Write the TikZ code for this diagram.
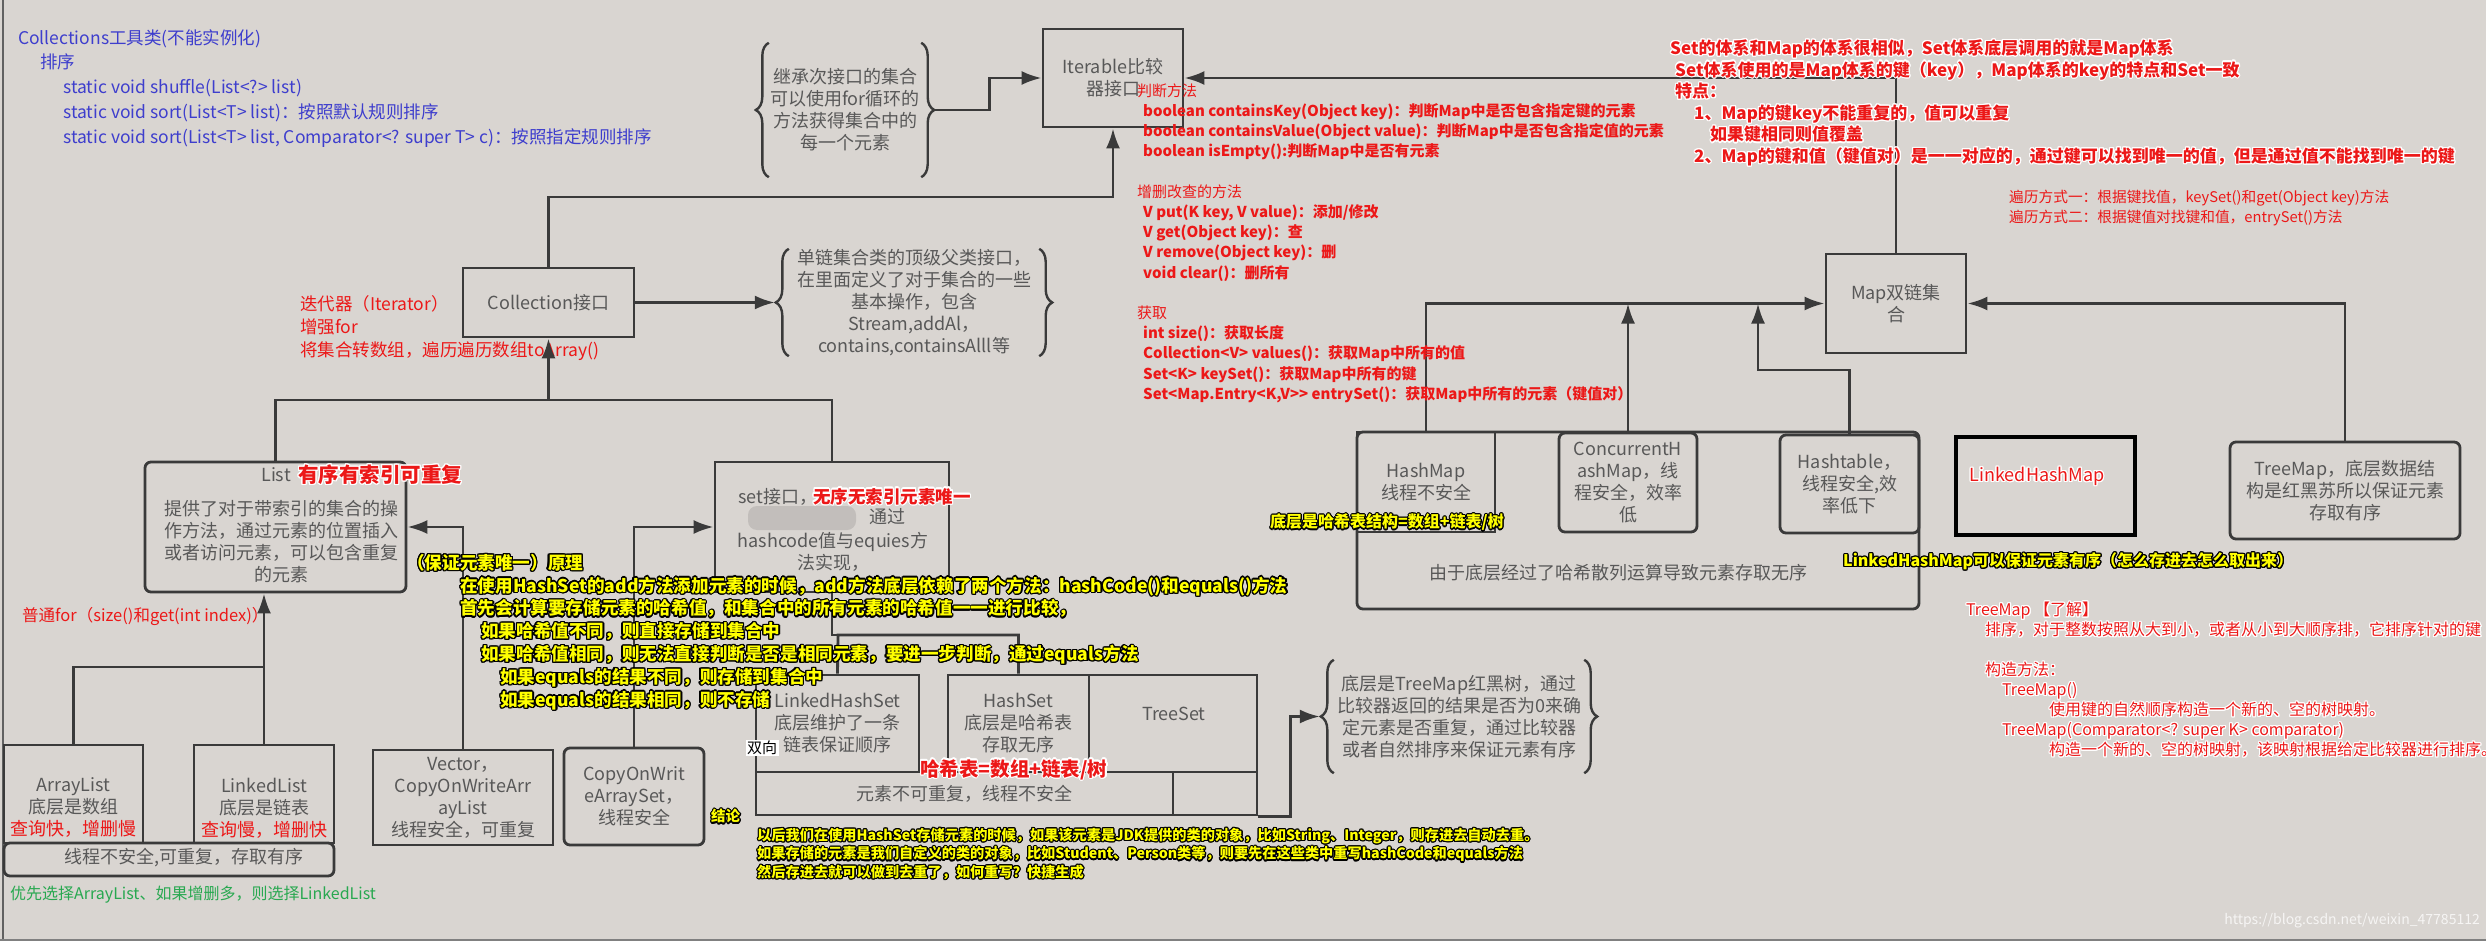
\documentclass[tikz,border=0pt]{standalone}
\usepackage{fontspec}
\setmainfont{Noto Sans CJK SC}
\usepackage{contour}
\contourlength{1.2pt}
\usetikzlibrary{arrows.meta,decorations.pathreplacing}
\definecolor{bg}{RGB}{217,213,209}
\definecolor{ln}{RGB}{58,58,58}
\definecolor{tx}{RGB}{88,88,88}
\definecolor{rd}{RGB}{236,24,24}
\definecolor{bl}{RGB}{62,62,205}
\definecolor{gn}{RGB}{40,168,80}
\definecolor{yl}{RGB}{255,255,0}
\newcommand\fs[2]{\fontsize{#1}{#2}\selectfont}
\newcommand\wred[1]{{\color{rd}\contour{white}{#1}}}
\newcommand\yblk[1]{{\color{yl}\contour{black}{#1}}}

\begin{document}
\begin{tikzpicture}[x=1pt,y=-1pt,
    box/.style={draw=ln,line width=2.8pt,inner sep=0pt},
    rbox/.style={box,rounded corners=6pt},
    gtext/.style={text=tx,font=\fs{18}{22},align=center,inner sep=0pt},
    link/.style={draw=ln,line width=2.8pt},
    arr/.style={link,-{Latex[length=20pt,width=14pt]}},
    brc/.style={draw=ln,line width=2.4pt,decorate,decoration={brace,amplitude=13pt}},
    note/.style={anchor=north west,align=left,inner sep=0pt}]
  \useasboundingbox (0,0) rectangle (2486,941);
  \fill[bg] (0,0) rectangle (2486,941);
  \draw[ln!80,line width=2pt] (3,0) -- (3,941);
  \draw[gray,line width=2pt] (0,940) -- (2486,940);

  % Collections
  \node[note,text=bl,font=\fs{17.5}{24.75}] (colls) at (18,29) {Collections工具类(不能实例化)\\
    \hspace*{22pt}排序\\
    \hspace*{45pt}static void shuffle(List<?> list)\\
    \hspace*{45pt}static void sort(List<T> list)：按照默认规则排序\\
    \hspace*{45pt}static void sort(List<T> list, Comparator<? super T> c)：按照指定规则排序};

  % top of the tree
  \node[box,gtext,minimum width=140pt,minimum height=98pt] (iter) at (1113,78) {Iterable比较\\器接口};
  \node[gtext,minimum width=152pt,minimum height=134pt] (itdesc) at (845,110) {继承次接口的集合\\可以使用for循环的\\方法获得集合中的\\每一个元素};
  \node[box,gtext,minimum width=171pt,minimum height=69pt] (coll) at (548.5,302.5) {Collection接口};
  \node[gtext,minimum width=250pt,minimum height=107pt] (colldesc) at (914,302.5) {单链集合类的顶级父类接口，\\在里面定义了对于集合的一些\\基本操作，包含\\Stream,addAl，\\contains,containsAlll等};
  \node[note,text=rd,font=\fs{17.5}{23}] (iternote) at (300,295) {迭代器（Iterator）\\增强for\\将集合转数组，遍历遍历数组toArray()};

  % List
  \node[rbox,minimum width=261pt,minimum height=130pt] (list) at (275.5,527) {};
  \node[gtext] (listt) at (276,475) {List};
  \node[anchor=west,inner sep=0pt,font=\fs{20.5}{24}\bfseries] (listr) at (298,475) {\wred{有序有索引可重复}};
  \node[gtext] (listd) at (281,541.5) {提供了对于带索引的集合的操\\作方法，通过元素的位置插入\\或者访问元素，可以包含重复\\的元素};
  \node[anchor=west,inner sep=0pt,text=rd,font=\fs{16.5}{20}] (fornote) at (22,616) {普通for（size()和get(int index)）};

  \node[box,minimum width=139pt,minimum height=98pt] (arrl) at (73.5,794) {};
  \node[gtext] (arrlt) at (73.5,807) {ArrayList\\底层是数组\\\textcolor{rd}{查询快，增删慢}};
  \node[box,minimum width=140pt,minimum height=98pt] (lnkl) at (264,794) {};
  \node[gtext] (lnklt) at (264,808) {LinkedList\\底层是链表\\\textcolor{rd}{查询慢，增删快}};
  \node[rbox,minimum width=330pt,minimum height=33pt] (lbot) at (169,859.5) {};
  \node[gtext] (lbott) at (184,858) {线程不安全,可重复，存取有序};
  \node[anchor=west,inner sep=0pt,text=gn,font=\fs{16}{20}] (pick) at (10,895) {优先选择ArrayList、如果增删多，则选择LinkedList};

  \node[box,gtext,minimum width=180pt,minimum height=95pt] (vect) at (463,797.5) {Vector，\\CopyOnWriteArr\\ayList\\线程安全，可重复};
  \node[rbox,gtext,minimum width=140pt,minimum height=97pt] (cows) at (634,796.5) {CopyOnWrit\\eArraySet，\\线程安全};

  % set
  \node[box,minimum width=234pt,minimum height=130pt] (setb) at (832,527) {};
  \fill[tx!18!bg,rounded corners=9pt] (748,506) rectangle (856,530);
  \node[gtext,anchor=west] (sett) at (738,497) {set接口，};
  \node[anchor=west,inner sep=0pt,font=\fs{17.5}{20}\bfseries] (setr) at (813,497) {\wred{无序无索引元素唯一}};
  \node[gtext,anchor=west] (setv) at (869,517) {通过};
  \node[gtext] (setd) at (833,552) {hashcode值与equies方\\法实现，};

  \node[box,gtext,minimum width=163pt,minimum height=97pt] (lhs) at (837.5,723.5) {LinkedHashSet\\底层维护了一条\\链表保证顺序};
  \node[box,gtext,minimum width=141pt,minimum height=97pt] (hs) at (1018.5,723.5) {HashSet\\底层是哈希表\\存取无序};
  \node[box,minimum width=168pt,minimum height=97pt] (ts) at (1173,723.5) {};
  \node[gtext] (tst) at (1174,714) {TreeSet};
  \node[box,gtext,minimum width=417pt,minimum height=43pt] (sbot) at (964.5,793.5) {元素不可重复，线程不安全};
  \node[box,minimum width=84pt,minimum height=43pt] (sbot2) at (1215,793.5) {};
  \node[fill=white,inner sep=1.5pt,font=\fs{15}{17}] (bidir) at (762,748) {双向};
  \node[anchor=west,inner sep=0pt,font=\fs{19.5}{22}\bfseries] (hashr) at (920,770) {\wred{哈希表=数组+链表/树}};
  \node[gtext,minimum width=250pt,minimum height=113pt] (tsdesc) at (1459,716.5) {底层是TreeMap红黑树，通过\\比较器返回的结果是否为0来确\\定元素是否重复，通过比较器\\或者自然排序来保证元素有序};

  \foreach \n in {itdesc,colldesc,tsdesc} {
    \draw[brc] (\n.south west) -- (\n.north west);
    \draw[brc] (\n.north east) -- (\n.south east);
  }
  \coordinate (itdesc-tip) at ([xshift=14pt]itdesc.east);
  \coordinate (colldesc-tip) at ([xshift=-14pt]colldesc.west);
  \coordinate (tsdesc-tip) at ([xshift=-14pt]tsdesc.west);

  % Map
  \node[box,gtext,minimum width=140pt,minimum height=99pt] (map) at (1896,303.5) {Map双链集\\合};
  \node[rbox,minimum width=562pt,minimum height=177pt] (hmo) at (1638,520.5) {};
  \node[box,gtext,minimum width=138pt,minimum height=100pt] (hm) at (1426,482) {HashMap\\线程不安全};
  \node[gtext] (hmt) at (1618,573) {由于底层经过了哈希散列运算导致元素存取无序};
  \node[rbox,gtext,minimum width=138pt,minimum height=99pt] (chm) at (1628,482.5) {ConcurrentH\\ashMap，线\\程安全，效率\\低};
  \node[rbox,gtext,minimum width=139pt,minimum height=98pt] (htb) at (1849.5,484) {Hashtable，\\线程安全,效\\率低下};
  \node[box,draw=black,line width=3.6pt,minimum width=179pt,minimum height=98pt] (lhm) at (2045.5,486) {};
  \node[inner sep=0pt,font=\fs{18}{20}] (lhmt) at (2037,477) {\wred{LinkedHashMap}};
  \node[rbox,gtext,minimum width=230pt,minimum height=97pt] (tm) at (2345,490.5) {TreeMap，底层数据结\\构是红黑苏所以保证元素\\存取有序};

  % connectors
  \draw[arr] (itdesc-tip) -- ++(54,0) |- (iter.west);
  \coordinate (ij) at (548.5,197);
  \draw[arr] (coll.north) -- (ij) -| (iter.south);
  \draw[arr] (map.north) |- (iter.east);
  \draw[arr] (coll.east) -- (colldesc-tip);
  \coordinate (cj) at (548.5,400);
  \draw[link] (list.north) |- (cj) -| (setb.north);
  \draw[arr] (cj) -- (coll.south);
  \draw[arr] (vect.north) |- (list.east);
  \draw[arr] (cows.north) |- (setb.west);
  \coordinate (lj) at (264,667);
  \draw[link] (arrl.north) |- (lj);
  \draw[arr] (lnkl.north) -- (lnkl.north |- list.south);
  \coordinate (sj) at (838,635);
  \draw[link] (setb.south) |- (sj);
  \draw[link] (lhs.north) -- (sj) -| (hs.north);
  \draw[arr] (sbot2.south east) -- ++(32,0) |- (tsdesc-tip);
  \draw[arr] (hm.north) |- (map.west);
  \draw[arr] (chm.north) -- (chm.north |- map.west);
  \coordinate (hk) at (1758,370);
  \draw[arr] (htb.north) |- (hk) -- (hk |- map.west);
  \draw[arr] (tm.north) |- (map.east);

  % notes
  \node[note,text=rd,font=\fs{15}{20.2}] (mapops) at (1137,83.5) {判断方法\\
    \hspace*{6pt}{\bfseries boolean containsKey(Object key)：判断Map中是否包含指定键的元素}\\
    \hspace*{6pt}{\bfseries boolean containsValue(Object value)：判断Map中是否包含指定值的元素}\\
    \hspace*{6pt}{\bfseries boolean isEmpty():判断Map中是否有元素}\\[20.2pt]
    增删改查的方法\\
    \hspace*{6pt}{\bfseries V put(K key, V value)：添加/修改}\\
    \hspace*{6pt}{\bfseries V get(Object key)：查}\\
    \hspace*{6pt}{\bfseries V remove(Object key)：删}\\
    \hspace*{6pt}{\bfseries void clear()：删所有}\\[20.2pt]
    获取\\
    \hspace*{6pt}{\bfseries int size()：获取长度}\\
    \hspace*{6pt}{\bfseries Collection<V> values()：获取Map中所有的值}\\
    \hspace*{6pt}{\bfseries Set<K> keySet()：获取Map中所有的键}\\
    \hspace*{6pt}{\bfseries Set<Map.Entry<K,V>{}> entrySet()：获取Map中所有的元素（键值对）}};
  \node[note,font=\fs{17}{21.6}\bfseries] (mapnote) at (1670,39.5) {\wred{Set的体系和Map的体系很相似，Set体系底层调用的就是Map体系}\\
    \hspace*{5pt}\wred{Set体系使用的是Map体系的键（key），Map体系的key的特点和Set一致}\\
    \hspace*{5pt}\wred{特点：}\\
    \hspace*{24pt}\wred{1、Map的键key不能重复的，值可以重复}\\
    \hspace*{40pt}\wred{如果键相同则值覆盖}\\
    \hspace*{24pt}\wred{2、Map的键和值（键值对）是一一对应的，通过键可以找到唯一的值，但是通过值不能找到唯一的键}};
  \node[note,text=rd,font=\fs{14.7}{20}] (trav) at (2009,189.5) {遍历方式一：根据键找值，keySet()和get(Object key)方法\\遍历方式二：根据键值对找键和值，entrySet()方法};
  \node[note,font=\fs{16}{20}] (tmnote) at (1966,602) {\wred{TreeMap 【了解】}\\
    \hspace*{19pt}\wred{排序，对于整数按照从大到小，或者从小到大顺序排，它排序针对的键}\\[20pt]
    \hspace*{19pt}\wred{构造方法：}\\
    \hspace*{36pt}\wred{TreeMap()}\\
    \hspace*{83pt}\wred{使用键的自然顺序构造一个新的、空的树映射。}\\
    \hspace*{36pt}\wred{TreeMap(Comparator<? super K> comparator)}\\
    \hspace*{83pt}\wred{构造一个新的、空的树映射，该映射根据给定比较器进行排序。}};
  \node[anchor=west,inner sep=0pt,font=\fs{16}{20}\bfseries] (hmy) at (1270,523) {\yblk{底层是哈希表结构=数组+链表/树}};
  \node[anchor=west,inner sep=0pt,font=\fs{16}{20}\bfseries] (lhmy) at (1843,562) {\yblk{LinkedHashMap可以保证元素有序（怎么存进去怎么取出来）}};
  \node[note,font=\fs{17.6}{22.8}\bfseries] (hashwhy) at (407,554) {\yblk{（保证元素唯一）原理}\\
    \hspace*{53pt}\yblk{在使用HashSet的add方法添加元素的时候，add方法底层依赖了两个方法：hashCode()和equals()方法}\\
    \hspace*{53pt}\yblk{首先会计算要存储元素的哈希值，和集合中的所有元素的哈希值一一进行比较，}\\
    \hspace*{74pt}\yblk{如果哈希值不同，则直接存储到集合中}\\
    \hspace*{74pt}\yblk{如果哈希值相同，则无法直接判断是否是相同元素，要进一步判断，通过equals方法}\\
    \hspace*{93pt}\yblk{如果equals的结果不同，则存储到集合中}\\
    \hspace*{93pt}\yblk{如果equals的结果相同，则不存储}};
  \node[anchor=west,inner sep=0pt,font=\fs{14.5}{18}\bfseries] (concl) at (711,817) {\yblk{结论}};
  \node[note,font=\fs{14.2}{18.5}\bfseries] (hsnote) at (757,828) {\yblk{以后我们在使用HashSet存储元素的时候，如果该元素是JDK提供的类的对象，比如String、Integer，则存进去自动去重。}\\
    \yblk{如果存储的元素是我们自定义的类的对象，比如Student、Person类等，则要先在这些类中重写hashCode和equals方法}\\
    \yblk{然后存进去就可以做到去重了，如何重写？快捷生成}};
  \node[anchor=east,inner sep=0pt,text=white!75!bg,font=\fs{14}{16}] (wm) at (2480,921) {https://blog.csdn.net/weixin\_47785112};
\end{tikzpicture}
\end{document}
